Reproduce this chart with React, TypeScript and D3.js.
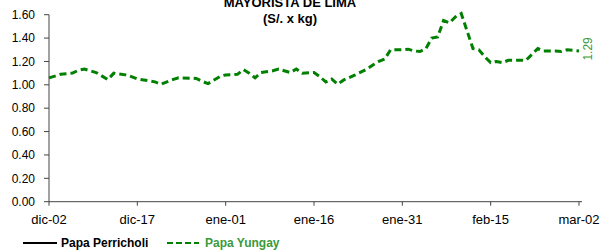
import React from 'react'
import * as d3 from 'd3'

// Precio mayorista de papa (S/. x kg), dic-02 a mar-02
const yungayDays = [
  0, 2, 4, 5, 6, 8, 10, 11, 13, 14, 15, 17, 18, 19, 21, 22, 25, 26, 27, 29,
  30, 32, 33, 34, 35, 36, 38, 39, 41, 42, 43, 45, 46, 47, 48, 49, 50, 52, 54, 55,
  56, 57, 58, 60, 61, 62, 63, 64, 65, 66, 67, 68, 69, 70, 71, 72, 73, 74, 75, 76,
  77, 78, 80, 81, 83, 84, 86, 87, 88, 90
]
const yungayValues = [
  1.06, 1.09, 1.1, 1.125, 1.135, 1.105, 1.045, 1.1, 1.085, 1.07, 1.05, 1.035, 1.025, 1.005, 1.045, 1.06, 1.055, 1.03, 1.01, 1.07,
  1.085, 1.09, 1.13, 1.1, 1.06, 1.105, 1.12, 1.135, 1.105, 1.135, 1.1, 1.105, 1.07, 1.025, 1.05, 1.005, 1.04, 1.085, 1.135, 1.17,
  1.2, 1.22, 1.3, 1.3, 1.305, 1.29, 1.285, 1.31, 1.4, 1.41, 1.55, 1.53, 1.58, 1.61, 1.46, 1.31, 1.3, 1.24, 1.19, 1.2,
  1.19, 1.21, 1.21, 1.21, 1.31, 1.29, 1.29, 1.285, 1.3, 1.29
]
// Papa Perricholi: sin datos en el periodo
const perricholiDays: number[] = []
const perricholiValues: number[] = []

const xTickLabels = ['dic-02', 'dic-17', 'ene-01', 'ene-16', 'ene-31', 'feb-15', 'mar-02']
const yTicks = [0, 0.2, 0.4, 0.6, 0.8, 1.0, 1.2, 1.4, 1.6]
const lastLabel = '1.29'

const start = new Date(2024, 11, 2)
const dayToDate = (d: number) => d3.timeDay.offset(start, d)

const font = '"Liberation Sans", Arial, sans-serif'
const axisColor = '#444'
const green = '#008000'
const greenText = '#3a9a3a'

export default function App() {
  const x = d3.scaleTime().domain([start, dayToDate(90)]).range([49, 579])
  const y = d3.scaleLinear().domain([0, 1.6]).range([201.7, 14.7])

  const yungay = yungayDays.map((d, i) => ({ date: dayToDate(d), v: yungayValues[i] }))
  const perricholi = perricholiDays.map((d, i) => ({ date: dayToDate(d), v: perricholiValues[i] }))

  const line = d3.line<{ date: Date; v: number }>()
    .x(d => x(d.date))
    .y(d => y(d.v))

  const xTicks = xTickLabels.map((_, i) => dayToDate(i * 15))
  const last = yungay[yungay.length - 1]

  return (
    <svg width={605} height={250} style={{ position: 'absolute', left: 0, top: 0, fontFamily: font }}>
      <rect width={605} height={250} fill="#fff" />

      {/* título */}
      <text x={290} y={7} textAnchor="middle" fontSize={13} fontWeight="bold">MAYORISTA DE LIMA</text>
      <text x={290} y={23} textAnchor="middle" fontSize={13} fontWeight="bold">(S/. x kg)</text>

      {/* eje Y */}
      <line x1={49} x2={49} y1={y(1.6)} y2={y(0)} stroke={axisColor} />
      {yTicks.map(t => (
        <g key={t}>
          <line x1={44} x2={49} y1={y(t)} y2={y(t)} stroke={axisColor} />
          <text x={35} y={y(t)} dy="0.35em" textAnchor="end" fontSize={12} fill="#000">
            {d3.format('.2f')(t)}
          </text>
        </g>
      ))}

      {/* eje X */}
      <line x1={49} x2={582} y1={y(0)} y2={y(0)} stroke={axisColor} />
      {xTicks.map((t, i) => (
        <g key={i}>
          <line x1={x(t)} x2={x(t)} y1={y(0)} y2={y(0) + 4} stroke={axisColor} />
          <text x={x(t)} y={224} textAnchor="middle" fontSize={13} fill="#000">{xTickLabels[i]}</text>
        </g>
      ))}

      {/* series */}
      {perricholi.length > 0 && (
        <path d={line(perricholi) || ''} fill="none" stroke="#000" strokeWidth={2} />
      )}
      <path d={line(yungay) || ''} fill="none" stroke={green} strokeWidth={3} strokeDasharray="7,4" />

      <text
        transform={`translate(${x(last.date) + 13},${y(last.v) - 2}) rotate(-90)`}
        textAnchor="middle"
        fontSize={12}
        fill={greenText}
      >
        {lastLabel}
      </text>

      {/* leyenda */}
      <line x1={23} x2={57} y1={243} y2={243} stroke="#000" strokeWidth={2} />
      <text x={61} y={247} fontSize={12} fontWeight="bold">Papa Perricholi</text>
      <line x1={167} x2={199} y1={243} y2={243} stroke={green} strokeWidth={2} strokeDasharray="6,3" />
      <text x={205} y={247} fontSize={12} fontWeight="bold" fill={greenText}>Papa Yungay</text>
    </svg>
  )
}
